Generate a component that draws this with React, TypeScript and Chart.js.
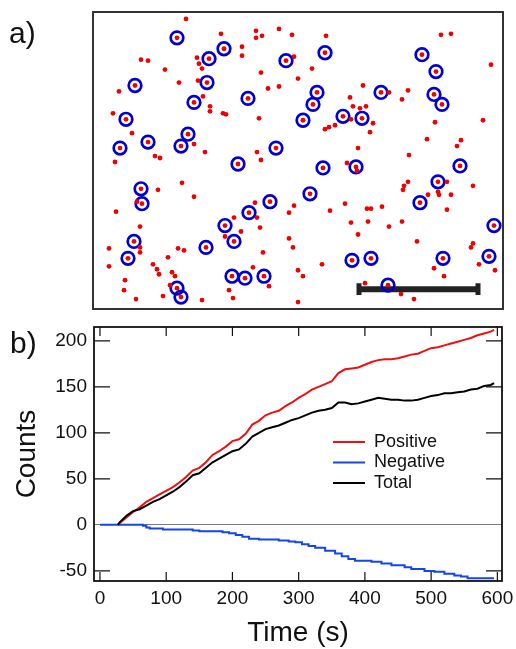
import { useEffect, useRef } from 'react';
import { Chart, registerables } from 'chart.js';

Chart.register(...registerables);

const FONT = "'Liberation Sans', Arial, sans-serif";
Chart.defaults.font.family = FONT;

// ---------- panel a: particle positions (image pixels) ----------
const plainDots: [number, number][] = [
  [93, 7], [128, 22], [163, 19], [169, 24], [163, 26], [186, 17], [199, 23], [149, 35], [149, 44],
  [104, 46], [106, 52], [109, 57], [48, 48], [55, 49], [72, 58], [201, 45], [168, 61], [205, 67],
  [26, 80], [86, 71], [105, 69], [186, 75], [175, 77], [110, 85], [117, 95], [117, 100], [130, 102],
  [133, 103], [166, 107], [20, 102], [39, 122], [101, 133], [112, 141], [164, 141], [62, 145], [67, 147],
  [233, 24], [219, 57], [270, 74], [257, 86], [260, 95], [267, 97], [273, 95], [258, 108], [280, 112],
  [277, 121], [242, 114], [236, 116], [232, 118], [296, 81], [315, 79], [309, 88], [348, 23], [358, 22],
  [342, 111], [398, 53], [390, 109], [334, 128], [368, 129], [364, 135], [265, 137], [316, 144],
  [22, 151], [168, 149], [89, 172], [65, 179], [101, 186], [44, 191], [23, 201], [162, 192], [201, 195],
  [196, 202], [141, 207], [164, 207], [167, 217], [148, 221], [132, 226], [47, 216], [47, 237], [47, 242],
  [16, 238], [16, 256], [85, 238], [91, 240], [75, 247], [170, 242], [196, 228], [200, 237], [60, 254],
  [64, 259], [66, 264], [79, 262], [82, 266], [160, 257], [176, 276], [205, 260], [32, 270], [31, 280],
  [77, 275], [70, 286], [43, 289], [109, 290], [136, 280], [140, 288], [205, 292], [254, 152], [264, 160],
  [354, 171], [315, 171], [311, 175], [310, 179], [335, 184], [345, 181], [346, 184], [358, 184], [380, 175],
  [237, 200], [252, 193], [274, 198], [278, 198], [289, 196], [354, 199], [258, 212], [275, 211], [296, 216],
  [309, 211], [265, 224], [324, 231], [380, 233], [378, 237], [229, 254], [386, 254], [402, 260], [341, 258],
  [351, 266], [210, 266], [272, 273], [308, 284], [321, 289],
];
const circledDots: [number, number][] = [
  [84, 26], [131, 37], [116, 47], [193, 49], [42, 74], [114, 71], [155, 87], [101, 91], [33, 108],
  [95, 123], [55, 131], [27, 137], [88, 135], [183, 137], [232, 41], [224, 81], [220, 93], [210, 109],
  [250, 105], [269, 107], [288, 81], [329, 43], [343, 60], [341, 83], [349, 93], [145, 153], [48, 178],
  [49, 193], [177, 191], [156, 202], [132, 215], [141, 231], [41, 231], [35, 248], [113, 237], [139, 266],
  [152, 268], [171, 266], [84, 278], [88, 287], [230, 157], [263, 156], [367, 155], [345, 171], [217, 183],
  [327, 192], [401, 215], [259, 250], [278, 248], [350, 248], [396, 246], [295, 275],
];
const scaleBarX = [266, 385];
const scaleBarY = 279;
const scaleBarCapY = [273, 285];
const imageW = 410;
const imageH = 299;

// ---------- panel b: counts vs time ----------
const timeS = [
  27, 30, 40, 50, 60, 70, 80, 90, 100, 110, 120, 130, 140, 150, 160, 170, 180, 190, 200, 210,
  220, 230, 240, 250, 260, 270, 280, 290, 300, 310, 320, 330, 340, 350, 360, 370, 380, 390, 400, 410,
  420, 430, 440, 450, 460, 470, 480, 490, 500, 510, 520, 530, 540, 550, 560, 570, 580, 590, 595,
];
const positiveCounts = [
  0, 2, 8, 14, 19, 25, 29, 33, 37, 41, 46, 52, 59, 62, 68, 76, 80, 85, 91, 93,
  99, 109, 113, 119, 122, 124, 129, 133, 138, 142, 147, 150, 153, 156, 165, 169, 170, 171, 174, 177,
  179, 180, 180, 181, 183, 185, 186, 189, 192, 193, 195, 197, 199, 201, 203, 206, 208, 210, 212,
];
const totalCounts = [
  0, 3, 10, 15, 17, 21, 25, 28, 32, 36, 41, 47, 54, 56, 62, 68, 72, 76, 80, 82,
  88, 96, 100, 104, 106, 108, 111, 114, 116, 119, 122, 124, 125, 127, 133, 133, 131, 132, 134, 136,
  138, 137, 136, 136, 135, 135, 136, 138, 140, 141, 143, 143, 144, 145, 147, 148, 151, 152, 154,
];
const negTimeS = [
  0, 65, 70, 75, 95, 140, 150, 185, 195, 205, 215, 225, 240, 270, 285, 295, 305, 315, 325, 340,
  355, 365, 375, 385, 410, 425, 440, 460, 470, 490, 505, 520, 535, 545, 555, 595,
];
const negativeCounts = [
  0, -1, -3, -4, -5, -6, -7, -8, -9, -11, -13, -15, -16, -17, -18, -19, -21, -23, -25, -28,
  -31, -34, -37, -39, -40, -42, -44, -46, -48, -50, -51, -53, -55, -56, -58, -58,
];
const xTicks = [0, 100, 200, 300, 400, 500, 600];
const yTicks = [-50, 0, 50, 100, 150, 200];

const RED = '#ee1010';
const BLUE = '#1446f0';
const DOT_RED = '#f00000';
const RING_BLUE = '#0000d2';

const frameA = {
  id: 'frameA',
  afterDatasetsDraw(chart: any) {
    const { ctx, chartArea: a } = chart;
    ctx.save();
    ctx.strokeStyle = '#333';
    ctx.lineWidth = 2;
    ctx.strokeRect(a.left, a.top, a.right - a.left, a.bottom - a.top);
    ctx.restore();
  },
};

const frameB = {
  id: 'frameB',
  afterDatasetsDraw(chart: any) {
    const { ctx, chartArea: a, scales } = chart;
    const x = scales.x;
    const y = scales.y;
    ctx.save();
    ctx.strokeStyle = '#111';
    ctx.lineWidth = 1.2;
    ctx.beginPath();
    for (const v of xTicks) {
      const px = x.getPixelForValue(v);
      ctx.moveTo(px, a.bottom);
      ctx.lineTo(px, a.bottom - 9);
      ctx.moveTo(px, a.top);
      ctx.lineTo(px, a.top + 9);
    }
    for (const v of yTicks) {
      if (v === 0) continue;
      const py = y.getPixelForValue(v);
      ctx.moveTo(a.left, py);
      ctx.lineTo(a.left + 16, py);
      ctx.moveTo(a.right, py);
      ctx.lineTo(a.right - 16, py);
    }
    ctx.stroke();
    ctx.lineWidth = 1.8;
    ctx.strokeRect(a.left, a.top, a.right - a.left, a.bottom - a.top);
    ctx.restore();
  },
};

const legendPlace = {
  id: 'legendPlace',
  afterLayout(chart: any) {
    const lg = chart.legend;
    if (!lg) return;
    lg.left = 330.5;
    lg.top = 112.5;
  },
};

export default function App() {
  const aRef = useRef<HTMLCanvasElement>(null);
  const bRef = useRef<HTMLCanvasElement>(null);

  useEffect(() => {
    const allDots = [...plainDots, ...circledDots].map(([x, y]) => ({ x, y }));
    const rings = circledDots.map(([x, y]) => ({ x, y }));
    const chartA = new Chart(aRef.current as HTMLCanvasElement, {
      type: 'scatter',
      data: {
        datasets: [
          {
            label: 'particles',
            data: allDots,
            pointRadius: 2.4,
            pointHoverRadius: 2.4,
            pointBackgroundColor: DOT_RED,
            pointBorderWidth: 0,
            clip: false,
          } as any,
          {
            label: 'detected',
            data: rings,
            pointRadius: 6.3,
            pointHoverRadius: 6.3,
            pointBorderWidth: 2.7,
            pointBorderColor: RING_BLUE,
            pointBackgroundColor: 'rgba(0,0,0,0)',
            clip: false,
          } as any,
          {
            label: 'scale bar',
            data: scaleBarX.map((x) => ({ x, y: scaleBarY })),
            showLine: true,
            borderColor: '#222',
            borderWidth: 6,
            pointRadius: 0,
            clip: false,
          } as any,
          {
            label: 'cap left',
            data: scaleBarCapY.map((y) => ({ x: scaleBarX[0], y })),
            showLine: true,
            borderColor: '#222',
            borderWidth: 5,
            pointRadius: 0,
            clip: false,
          } as any,
          {
            label: 'cap right',
            data: scaleBarCapY.map((y) => ({ x: scaleBarX[1], y })),
            showLine: true,
            borderColor: '#222',
            borderWidth: 5,
            pointRadius: 0,
            clip: false,
          } as any,
        ],
      },
      options: {
        responsive: false,
        animation: false,
        events: [],
        layout: { padding: { left: 93, right: 13, top: 12, bottom: 7 } },
        scales: {
          x: { type: 'linear', min: 0, max: imageW, display: false },
          y: { type: 'linear', min: 0, max: imageH, reverse: true, display: false },
        },
        plugins: { legend: { display: false }, tooltip: { enabled: false } },
      },
      plugins: [frameA],
    });

    const chartB = new Chart(bRef.current as HTMLCanvasElement, {
      type: 'line',
      data: {
        datasets: [
          {
            label: 'Positive',
            data: timeS.map((t, i) => ({ x: t, y: positiveCounts[i] })),
            borderColor: RED,
            backgroundColor: RED,
            borderWidth: 2,
            pointRadius: 0,
            tension: 0,
            order: 2,
          },
          {
            label: 'Negative',
            data: negTimeS.map((t, i) => ({ x: t, y: negativeCounts[i] })),
            borderColor: BLUE,
            backgroundColor: BLUE,
            borderWidth: 2,
            pointRadius: 0,
            stepped: true,
            order: 1,
          },
          {
            label: 'Total',
            data: timeS.map((t, i) => ({ x: t, y: totalCounts[i] })),
            borderColor: '#000',
            backgroundColor: '#000',
            borderWidth: 2,
            pointRadius: 0,
            tension: 0,
            order: 0,
          },
        ],
      },
      options: {
        responsive: false,
        animation: false,
        events: [],
        layout: { padding: { top: 9, right: 14, left: 0, bottom: 0 } },
        scales: {
          x: {
            type: 'linear',
            min: -9,
            max: 607,
            afterBuildTicks: (s: any) => {
              s.ticks = xTicks.map((v) => ({ value: v }));
            },
            afterFit: (s: any) => {
              s.height = 68;
              s.paddingLeft = 0;
              s.paddingRight = 0;
            },
            grid: { display: false, drawTicks: false },
            border: { display: false },
            ticks: { padding: 6, font: { size: 19 }, color: '#111', maxRotation: 0, autoSkip: false },
            title: {
              display: true,
              text: 'Time (s)',
              color: '#111',
              font: { size: 28, lineHeight: 1 },
              padding: { top: 0, bottom: 2 },
            },
          },
          y: {
            type: 'linear',
            min: -61,
            max: 215,
            afterBuildTicks: (s: any) => {
              s.ticks = yTicks.map((v) => ({ value: v }));
            },
            afterFit: (s: any) => {
              s.width = 94;
              s.paddingTop = 0;
              s.paddingBottom = 0;
            },
            grid: {
              drawTicks: false,
              lineWidth: 1,
              color: (c: any) => (c.tick && c.tick.value === 0 ? '#7a7a7a' : 'rgba(0,0,0,0)'),
            },
            border: { display: false },
            ticks: { padding: 7, font: { size: 19 }, color: '#111', autoSkip: false },
            title: {
              display: true,
              text: 'Counts',
              color: '#111',
              font: { size: 28, lineHeight: 1 },
              padding: { top: 13, bottom: 0 },
            },
          },
        },
        plugins: {
          tooltip: { enabled: false },
          legend: {
            position: 'chartArea' as any,
            align: 'start',
            labels: {
              usePointStyle: true,
              pointStyle: 'line',
              pointStyleWidth: 32,
              boxHeight: 18,
              padding: 2.5,
              color: '#111',
              font: { size: 18 },
              sort: (a: any, b: any) => a.datasetIndex - b.datasetIndex,
            },
          },
        },
      },
      plugins: [legendPlace, frameB],
    });

    return () => {
      chartA.destroy();
      chartB.destroy();
    };
  }, []);

  return (
    <div
      style={{
        position: 'absolute',
        left: 0,
        top: 0,
        width: 516,
        height: 649,
        background: '#fff',
        fontFamily: FONT,
        color: '#111',
      }}
    >
      <canvas ref={aRef} width={516} height={318} style={{ position: 'absolute', left: 0, top: 0 }} />
      <canvas ref={bRef} width={516} height={331} style={{ position: 'absolute', left: 0, top: 318 }} />
      <div style={{ position: 'absolute', left: 9, top: 18, fontSize: 30, lineHeight: '30px' }}>a)</div>
      <div style={{ position: 'absolute', left: 10, top: 328, fontSize: 30, lineHeight: '30px' }}>b)</div>
    </div>
  );
}
